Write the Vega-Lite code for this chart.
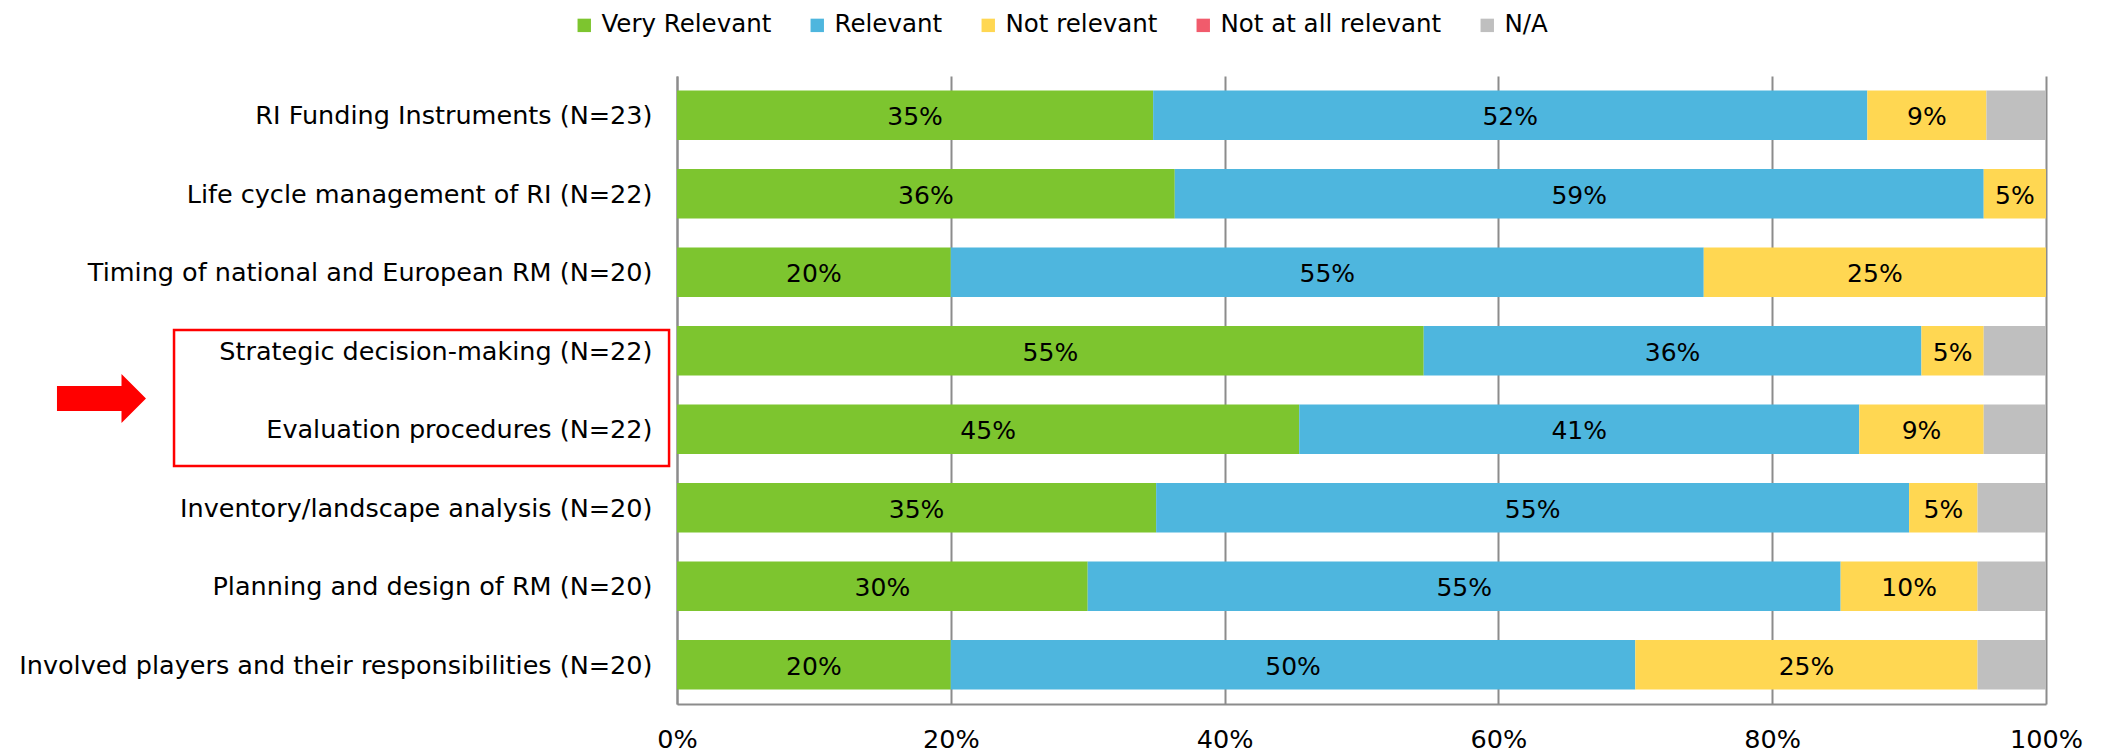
{
  "$schema": "https://vega.github.io/schema/vega-lite/v6.json",
  "width": 1369,
  "height": 628,
  "autosize": "none",
  "padding": {"left": 677, "top": 76, "right": 56, "bottom": 48},
  "config": {
    "font": "DejaVu Sans",
    "view": {"stroke": null},
    "axis": {"labelColor": "#000000", "labelFont": "DejaVu Sans", "labelFontSize": 25.5}
  },
  "datasets": {
    "bars": [
      {"item": "RI Funding Instruments (N=23)", "category": "Very Relevant", "share": 0.3478},
      {"item": "RI Funding Instruments (N=23)", "category": "Relevant", "share": 0.5217},
      {"item": "RI Funding Instruments (N=23)", "category": "Not relevant", "share": 0.0870},
      {"item": "RI Funding Instruments (N=23)", "category": "N/A", "share": 0.0435},
      {"item": "Life cycle management of RI (N=22)", "category": "Very Relevant", "share": 0.3636},
      {"item": "Life cycle management of RI (N=22)", "category": "Relevant", "share": 0.5909},
      {"item": "Life cycle management of RI (N=22)", "category": "Not relevant", "share": 0.0455},
      {"item": "Timing of national and European RM (N=20)", "category": "Very Relevant", "share": 0.20},
      {"item": "Timing of national and European RM (N=20)", "category": "Relevant", "share": 0.55},
      {"item": "Timing of national and European RM (N=20)", "category": "Not relevant", "share": 0.25},
      {"item": "Strategic decision-making (N=22)", "category": "Very Relevant", "share": 0.5455},
      {"item": "Strategic decision-making (N=22)", "category": "Relevant", "share": 0.3636},
      {"item": "Strategic decision-making (N=22)", "category": "Not relevant", "share": 0.0455},
      {"item": "Strategic decision-making (N=22)", "category": "N/A", "share": 0.0455},
      {"item": "Evaluation procedures (N=22)", "category": "Very Relevant", "share": 0.4545},
      {"item": "Evaluation procedures (N=22)", "category": "Relevant", "share": 0.4091},
      {"item": "Evaluation procedures (N=22)", "category": "Not relevant", "share": 0.0909},
      {"item": "Evaluation procedures (N=22)", "category": "N/A", "share": 0.0455},
      {"item": "Inventory/landscape analysis (N=20)", "category": "Very Relevant", "share": 0.35},
      {"item": "Inventory/landscape analysis (N=20)", "category": "Relevant", "share": 0.55},
      {"item": "Inventory/landscape analysis (N=20)", "category": "Not relevant", "share": 0.05},
      {"item": "Inventory/landscape analysis (N=20)", "category": "N/A", "share": 0.05},
      {"item": "Planning and design of RM (N=20)", "category": "Very Relevant", "share": 0.30},
      {"item": "Planning and design of RM (N=20)", "category": "Relevant", "share": 0.55},
      {"item": "Planning and design of RM (N=20)", "category": "Not relevant", "share": 0.10},
      {"item": "Planning and design of RM (N=20)", "category": "N/A", "share": 0.05},
      {"item": "Involved players and their responsibilities (N=20)", "category": "Very Relevant", "share": 0.20},
      {"item": "Involved players and their responsibilities (N=20)", "category": "Relevant", "share": 0.50},
      {"item": "Involved players and their responsibilities (N=20)", "category": "Not relevant", "share": 0.25},
      {"item": "Involved players and their responsibilities (N=20)", "category": "N/A", "share": 0.05}
    ],
    "box": [{"x0": -0.3674, "x1": -0.0058, "y0": 3.236, "y1": 4.968}],
    "arrow": [{"x": -0.4204, "y": 4.108}]
  },
  "layer": [
    {
      "data": {"name": "bars"},
      "transform": [
        {"stack": "share", "groupby": ["item"], "sort": [{"field": "category", "order": "descending"}], "offset": "normalize", "as": ["s0", "s1"]}
      ],
      "encoding": {
        "y": {
          "field": "item", "type": "nominal", "sort": null, "title": null,
          "scale": {"paddingInner": 0.368, "paddingOuter": 0.184},
          "axis": {"ticks": false, "labelPadding": 25, "labelOffset": 1, "domainColor": "#8c8c8c", "domainWidth": 2, "labelLimit": 1000}
        }
      },
      "layer": [
        {
          "mark": {"type": "bar"},
          "encoding": {
            "x": {
              "field": "s0", "type": "quantitative", "title": null,
              "scale": {"domain": [0, 1], "nice": false, "zero": false},
              "axis": {"values": [0, 0.2, 0.4, 0.6, 0.8, 1], "format": ".0%", "grid": true, "gridColor": "#8c8c8c", "gridWidth": 2, "ticks": false, "labelPadding": 23, "labelFlush": false, "domainColor": "#8c8c8c", "domainWidth": 2}
            },
            "x2": {"field": "s1"},
            "color": {
              "field": "category", "type": "nominal", "title": null,
              "scale": {
                "domain": ["Very Relevant", "Relevant", "Not relevant", "Not at all relevant", "N/A"],
                "range": ["#7dc52f", "#4eb6de", "#ffd752", "#f15b6c", "#bfbfbf"]
              },
              "legend": {
                "orient": "none", "direction": "horizontal", "legendX": -105, "legendY": -63,
                "symbolType": "square", "symbolSize": 180, "symbolStrokeWidth": 0, "symbolOpacity": 1,
                "labelFontSize": 24.5, "labelColor": "#000000", "labelFont": "DejaVu Sans",
                "labelOffset": 5, "columnPadding": 33, "padding": 0, "labelLimit": 500
              }
            }
          }
        },
        {
          "transform": [
            {"filter": "datum.category != 'N/A'"},
            {"fold": ["s0", "s1"], "as": ["edge", "pos"]},
            {"aggregate": [{"op": "mean", "field": "pos", "as": "mid"}], "groupby": ["item", "category", "share"]}
          ],
          "mark": {"type": "text", "fontSize": 25, "color": "#000000", "align": "center", "baseline": "middle", "dy": 2},
          "encoding": {
            "x": {"field": "mid", "type": "quantitative", "title": null, "scale": {"domain": [0, 1], "nice": false, "zero": false}},
            "text": {"field": "share", "type": "quantitative", "format": ".0%"}
          }
        }
      ]
    },
    {
      "data": {"name": "box"},
      "mark": {"type": "rect", "fill": null, "fillOpacity": 0, "stroke": "#ff0000", "strokeWidth": 2.5},
      "encoding": {
        "x": {"field": "x0", "type": "quantitative", "title": null, "scale": {"domain": [0, 1], "nice": false, "zero": false}},
        "x2": {"field": "x1"},
        "y": {"field": "y0", "type": "quantitative", "title": null, "scale": {"domain": [0, 8], "reverse": true, "nice": false}, "axis": null},
        "y2": {"field": "y1"}
      }
    },
    {
      "data": {"name": "arrow"},
      "mark": {"type": "point", "filled": true, "color": "#ff0000", "opacity": 1, "size": 7921,
               "shape": "M-1,-0.28L0.45,-0.28L0.45,-0.55L1,0L0.45,0.55L0.45,0.28L-1,0.28Z"},
      "encoding": {
        "x": {"field": "x", "type": "quantitative", "title": null, "scale": {"domain": [0, 1], "nice": false, "zero": false}},
        "y": {"field": "y", "type": "quantitative", "title": null, "scale": {"domain": [0, 8], "reverse": true, "nice": false}, "axis": null}
      }
    }
  ],
  "resolve": {"scale": {"y": "independent"}}
}
